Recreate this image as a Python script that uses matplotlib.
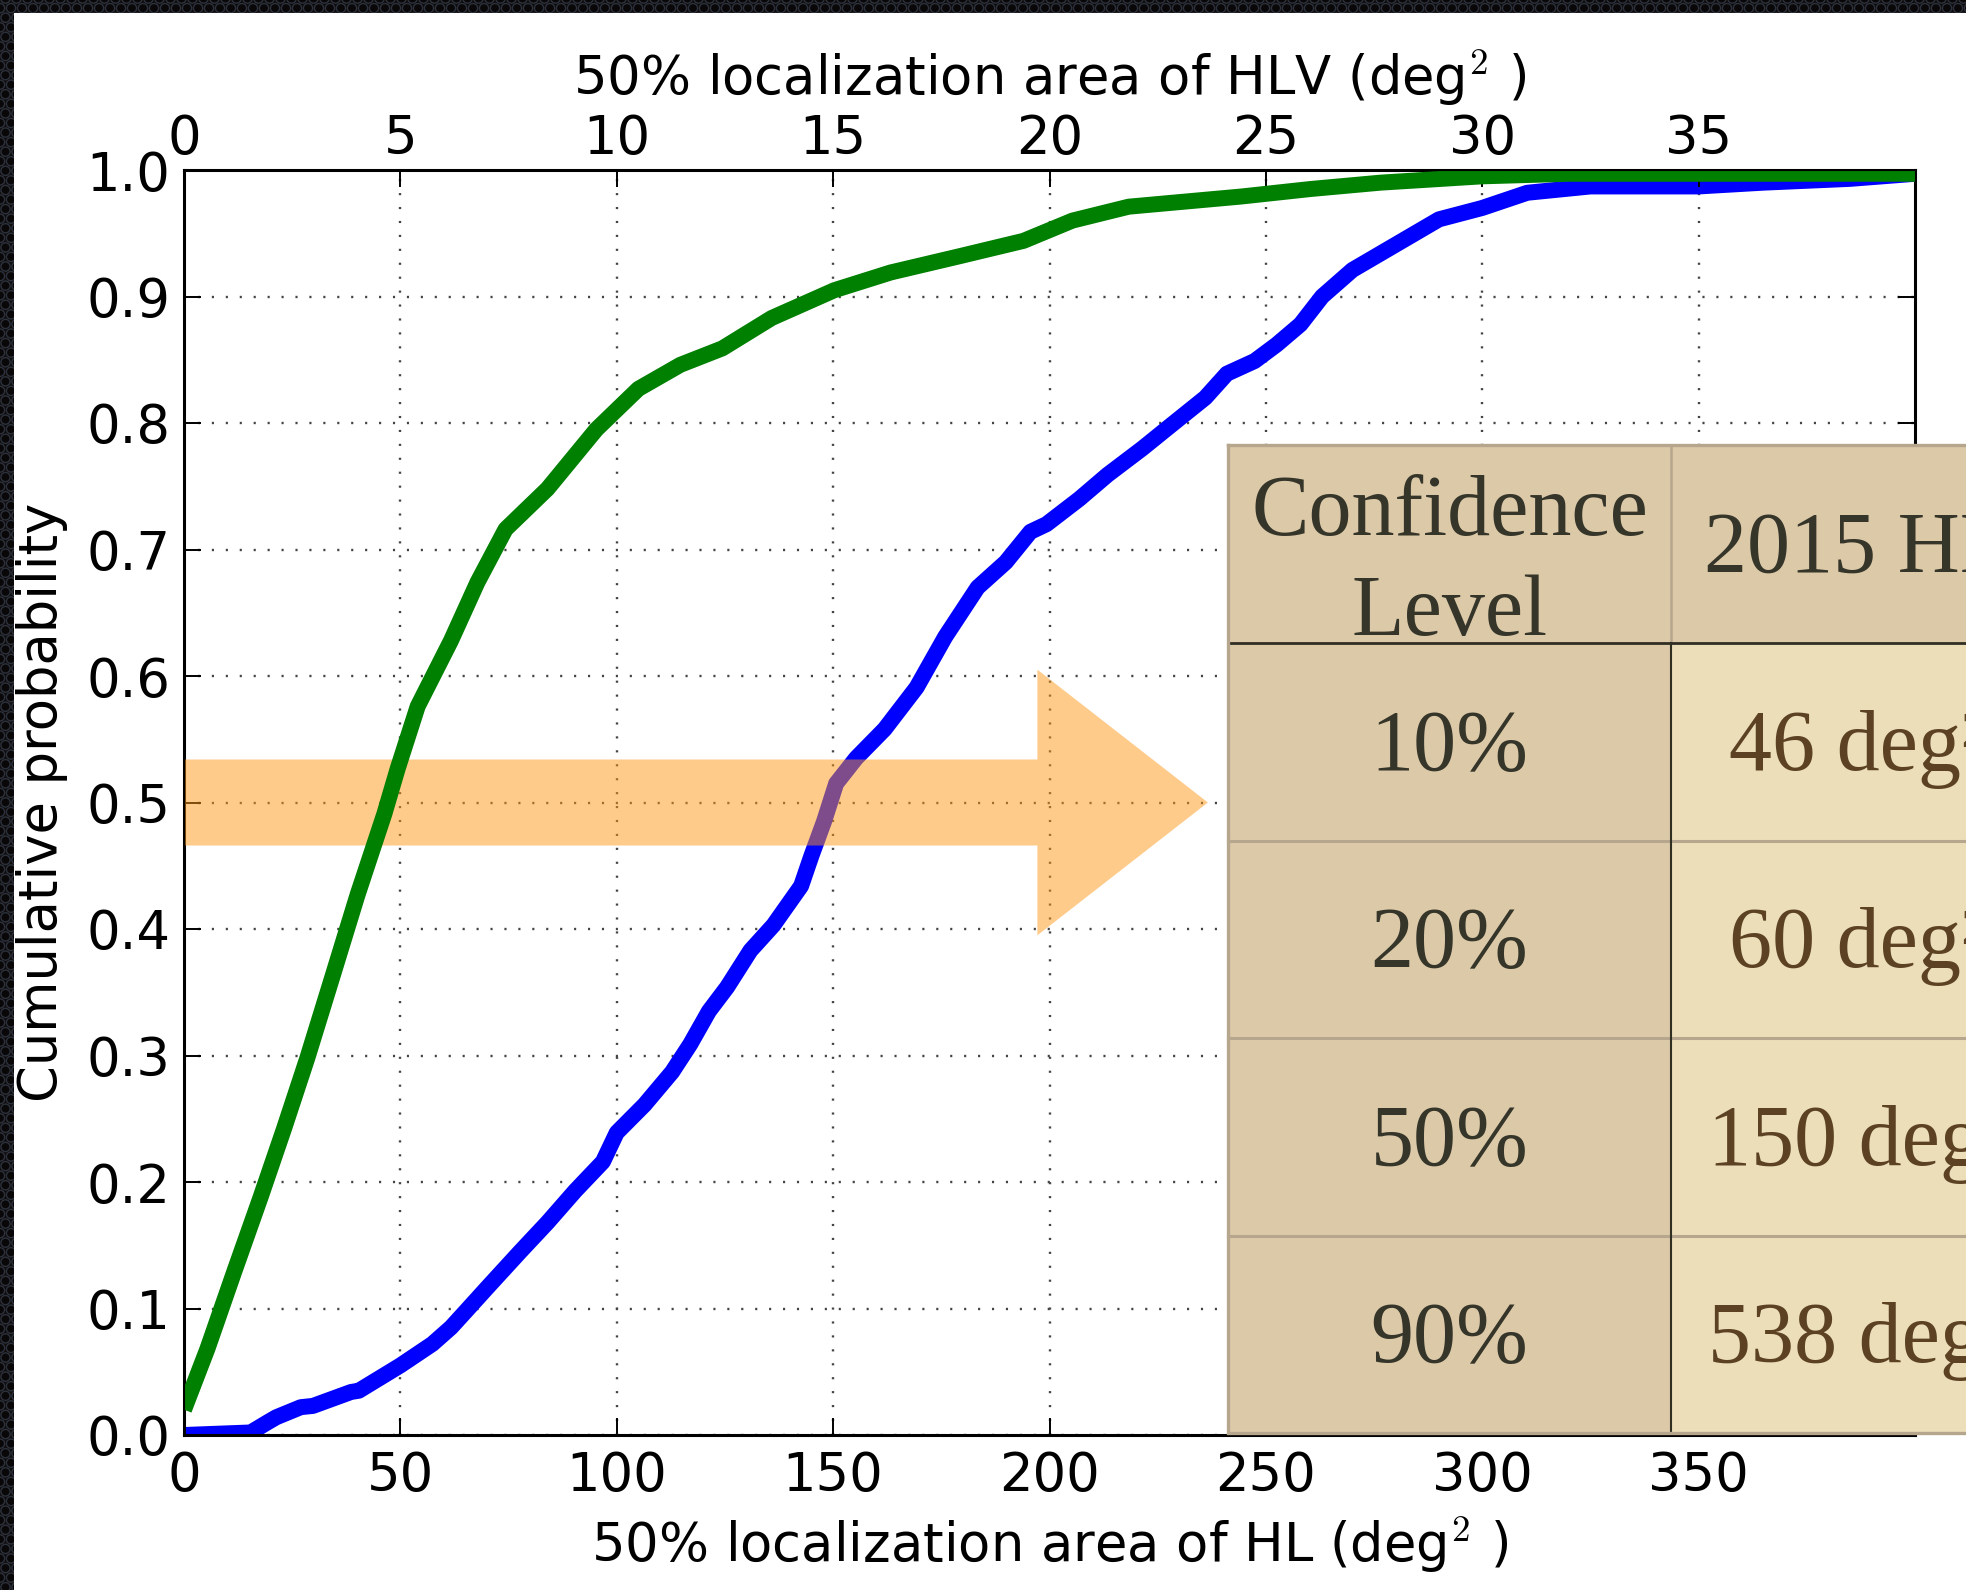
import numpy as np
import matplotlib
matplotlib.use("Agg")
import matplotlib.pyplot as plt
from matplotlib.patches import Rectangle, Circle, FancyArrow
from matplotlib.collections import PatchCollection
from matplotlib.ticker import FormatStrFormatter

# Cumulative distribution of the 50% localization area, HL network (deg^2)
hl_area = [0, 15.4, 19.3, 21.3, 27.0, 29.8, 38.6, 40.4, 50.0, 57.4, 61.7, 64.9,
           70.2, 77.7, 84.0, 90.4, 96.8, 100.0, 106.4, 112.8, 117.0, 121.3, 125.5,
           130.9, 136.2, 142.6, 145.0, 147.9, 150.7, 155.3, 161.9, 169.3, 175.9,
           183.4, 189.9, 195.6, 199.3, 206.9, 213.4, 221.5, 228.0, 236.0, 241.0,
           247.4, 252.5, 258.0, 263.0, 270.0, 278.0, 290.0, 300.0, 310.4, 325.0,
           350.0, 365.0, 385.0, 400.0]
hl_cdf = [0.000, 0.002, 0.010, 0.014, 0.022, 0.023, 0.034, 0.035, 0.055, 0.072,
          0.085, 0.097, 0.117, 0.145, 0.168, 0.193, 0.216, 0.239, 0.261, 0.287,
          0.309, 0.335, 0.354, 0.383, 0.403, 0.434, 0.458, 0.485, 0.515, 0.535,
          0.558, 0.591, 0.631, 0.670, 0.690, 0.714, 0.720, 0.740, 0.759, 0.780,
          0.798, 0.820, 0.839, 0.849, 0.862, 0.878, 0.900, 0.921, 0.937, 0.961,
          0.970, 0.982, 0.987, 0.987, 0.990, 0.993, 0.997]

# Cumulative distribution of the 50% localization area, HLV network (deg^2)
hlv_area = [0, 0.54, 1.16, 1.77, 2.31, 2.85, 3.40, 4.01, 4.63, 4.94, 5.40, 6.17,
            6.78, 7.43, 8.40, 9.53, 10.50, 11.47, 12.44, 13.58, 15.03, 16.33,
            17.94, 19.40, 20.53, 21.83, 24.42, 26.04, 27.65, 30.0, 32.0, 40.0]
hlv_cdf = [0.020, 0.068, 0.129, 0.188, 0.242, 0.298, 0.359, 0.427, 0.491, 0.527,
           0.576, 0.628, 0.674, 0.716, 0.748, 0.795, 0.827, 0.846, 0.859, 0.883,
           0.905, 0.919, 0.932, 0.944, 0.960, 0.971, 0.979, 0.985, 0.990, 0.995,
           0.997, 0.997]

hl_ticks = [0, 50, 100, 150, 200, 250, 300, 350]
hlv_ticks = [0, 5, 10, 15, 20, 25, 30, 35]
prob_ticks = [0.0, 0.1, 0.2, 0.3, 0.4, 0.5, 0.6, 0.7, 0.8, 0.9, 1.0]

# Summary table
conf_levels = ["10%", "20%", "50%", "90%"]
hl_2015_areas = ["46 deg\u00b2", "60 deg\u00b2", "150 deg\u00b2", "538 deg\u00b2"]
median_level = 0.5
arrow_end = 236.6

plt.rcParams["font.family"] = "DejaVu Sans"
plt.rcParams["mathtext.fontset"] = "cm"
plt.rcParams["font.size"] = 38

W, H = 1966, 1590
fig = plt.figure(figsize=(W / 100, H / 100), dpi=100, facecolor="white")

# ---- background frame (dark mesh strips at top and left) ----
bg = fig.add_axes([0, 0, 1, 1], zorder=0)
bg.set_xlim(0, W)
bg.set_ylim(H, 0)
bg.axis("off")


def mesh_strip(x0, y0, w, h):
    base = Rectangle((x0, y0), w, h, facecolor="#110c0b", edgecolor="none")
    bg.add_patch(base)
    step = 11.0
    rings = []
    for i, yy in enumerate(np.arange(y0 - step, y0 + h + step, step * 0.87)):
        off = (i % 2) * step / 2
        for xx in np.arange(x0 - step + off, x0 + w + step, step):
            rings.append(Circle((xx, yy), 4.6))
    pc = PatchCollection(rings, facecolor="#0a0708", edgecolor="#2b323d",
                         linewidth=1.0)
    bg.add_collection(pc)
    pc.set_clip_path(base)


mesh_strip(0, 0, W, 13)
mesh_strip(0, 0, 14, H)

# ---- main axes: HL curve ----
ax_left, ax_right, ax_top_px, ax_bot_px = 184, 1915, 170, 1435
ax = fig.add_axes([ax_left / W, 1 - ax_bot_px / H,
                   (ax_right - ax_left) / W, (ax_bot_px - ax_top_px) / H],
                  zorder=1)
ax.plot(hl_area, hl_cdf, color="#0000ff", lw=11.5, solid_joinstyle="round",
        solid_capstyle="butt")
ax.set_xlim(0, 400)
ax.set_ylim(0, 1.0)
ax.set_xticks(hl_ticks)
ax.set_yticks(prob_ticks)
ax.yaxis.set_major_formatter(FormatStrFormatter("%.1f"))
ax.grid(True, color="#444444", lw=1.7, ls=(0, (0.9, 5.0)))
ax.tick_params(axis="both", direction="in", length=12, width=1.4,
               labelsize=38, right=True, top=False)
ax.tick_params(axis="x", pad=11)
ax.tick_params(axis="y", pad=10)
for s in ax.spines.values():
    s.set_linewidth(2.2)
ax.set_xlabel("50% localization area of HL (deg$^2$ )", fontsize=38, labelpad=9)
ax.set_ylabel("Cumulative probability", fontsize=38, labelpad=13)

# ---- top axis: HLV curve ----
ax2 = ax.twiny()
ax2.set_xlim(0, 40)
ax2.set_xticks(hlv_ticks)
ax2.plot(hlv_area, hlv_cdf, color="#008000", lw=11.5, solid_joinstyle="round",
         solid_capstyle="butt")
ax2.tick_params(axis="x", direction="in", length=12, width=1.4, labelsize=38,
                pad=3.5)
ax2.set_xlabel("50% localization area of HLV (deg$^2$ )", fontsize=38, labelpad=13)

# highlight arrow along the median
arrow = FancyArrow(0, median_level, arrow_end, 0, width=0.068, head_width=0.21,
                   head_length=arrow_end - 197.2, length_includes_head=True,
                   facecolor=(254 / 255, 152 / 255, 24 / 255), alpha=0.5,
                   edgecolor="none", transform=ax.transData)
ax2.add_patch(arrow)

# ---- summary table overlay ----
ov = fig.add_axes([0, 0, 1, 1], zorder=5)
ov.set_xlim(0, W)
ov.set_ylim(H, 0)
ov.axis("off")
ov.patch.set_visible(False)

t_left, t_top, t_head, t_bot, t_split, t_right = 1228, 445, 643, 1433, 1671, 2100
row_h = (t_bot - t_head) / len(conf_levels)
tan = "#dcc9a8"
cream = "#ebdeb9"
light_line = "#b6a68d"
dark_line = "#302f24"
left_txt = "#35352a"
right_txt = "#5c4222"
serif = "Liberation Serif"

ov.add_patch(Rectangle((t_left, t_top), t_split - t_left, t_head - t_top,
                       facecolor=tan, edgecolor="none"))
ov.add_patch(Rectangle((t_split, t_top), t_right - t_split, t_head - t_top,
                       facecolor=tan, edgecolor="none"))
for i, (lvl, area) in enumerate(zip(conf_levels, hl_2015_areas)):
    y0 = t_head + i * row_h
    ov.add_patch(Rectangle((t_left, y0), t_split - t_left, row_h,
                           facecolor=tan, edgecolor="none"))
    ov.add_patch(Rectangle((t_split, y0), t_right - t_split, row_h,
                           facecolor=cream, edgecolor="none"))
    yc = y0 + row_h / 2 + 28
    ov.text((t_left + t_split) / 2, yc, lvl, ha="center", va="baseline",
            family=serif, fontsize=62, color=left_txt)
    ov.text(1858, yc, area, ha="center", va="baseline",
            family=serif, fontsize=62, color=right_txt)
    if i > 0:
        ov.plot([t_left, t_right], [y0, y0], color=light_line, lw=2.2)

ov.text((t_left + t_split) / 2, 535, "Confidence", ha="center", va="baseline",
        family=serif, fontsize=62, color=left_txt)
ov.text((t_left + t_split) / 2, 635, "Level", ha="center", va="baseline",
        family=serif, fontsize=62, color=left_txt)
ov.text(1858, 572, "2015 HL", ha="center", va="baseline",
        family=serif, fontsize=62, color=left_txt)

ov.plot([t_split, t_split], [t_top, t_head], color=light_line, lw=1.8)
ov.plot([t_split, t_split], [t_head, t_bot], color=dark_line, lw=1.5)
ov.plot([t_left, t_right], [t_head, t_head], color=dark_line, lw=2.0)
ov.plot([t_left, t_right, t_right, t_left, t_left],
        [t_top, t_top, t_bot, t_bot, t_top], color=light_line, lw=2.4,
        solid_joinstyle="miter")

fig.savefig("out.png", dpi=100, facecolor="white")
